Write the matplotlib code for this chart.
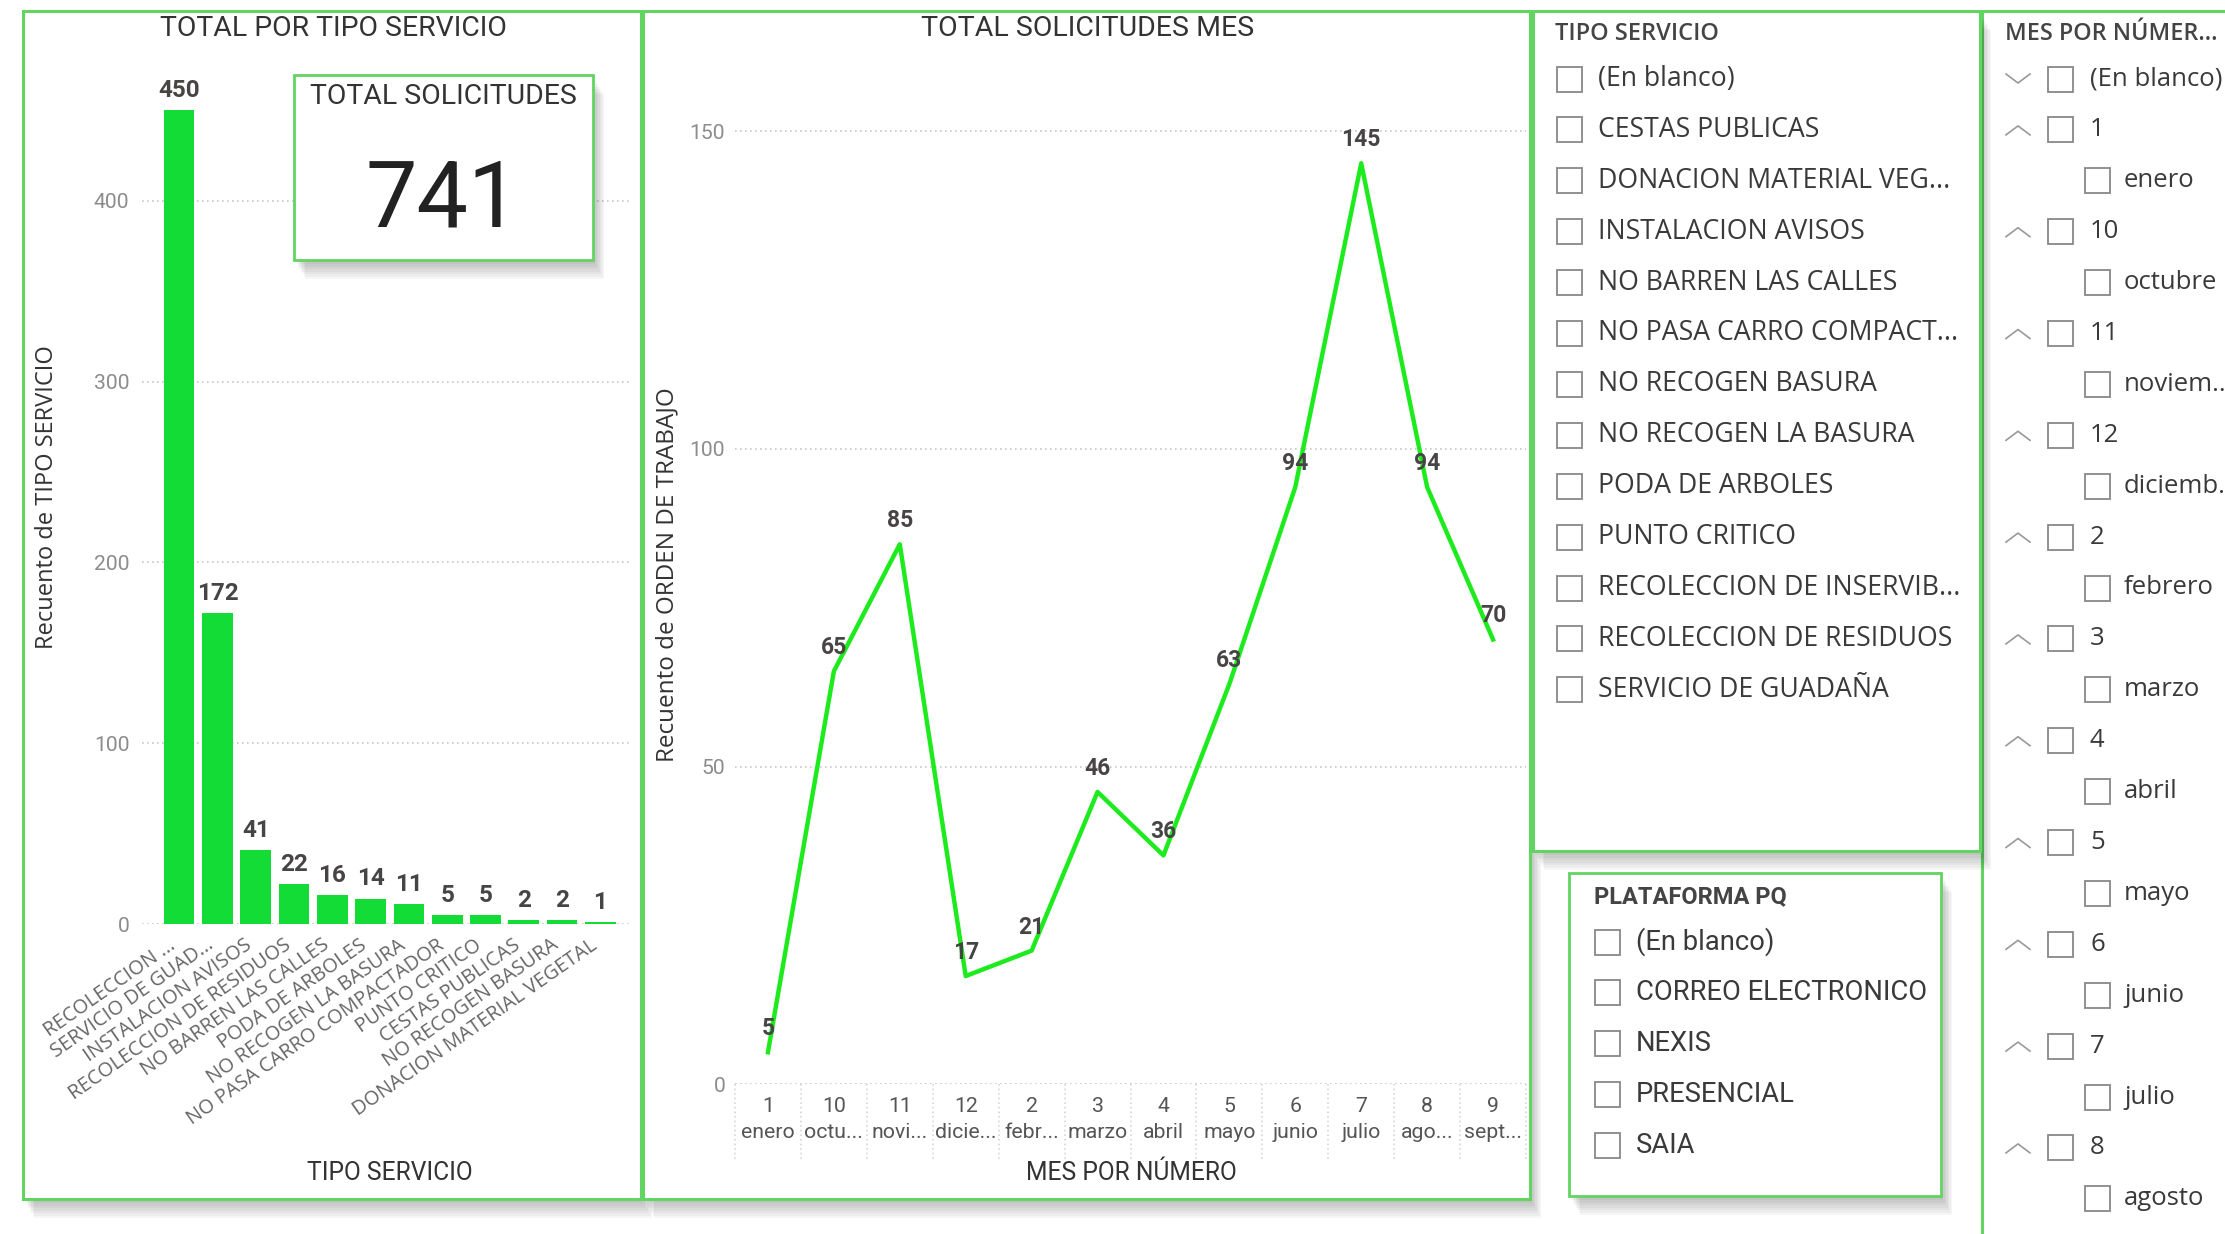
import matplotlib
matplotlib.use("Agg")
import matplotlib.pyplot as plt
from matplotlib.patches import Rectangle
from matplotlib.transforms import blended_transform_factory, ScaledTranslation

# ---------------- data ----------------
tipo_labels = ["RECOLECCION ...", "SERVICIO DE GUAD...", "INSTALACION AVISOS",
               "RECOLECCION DE RESIDUOS", "NO BARREN LAS CALLES", "PODA DE ARBOLES",
               "NO RECOGEN LA BASURA", "NO PASA CARRO COMPACTADOR", "PUNTO CRITICO",
               "CESTAS PUBLICAS", "NO RECOGEN BASURA", "DONACION MATERIAL VEGETAL"]
tipo_counts = [450, 172, 41, 22, 16, 14, 11, 5, 5, 2, 2, 1]

mes_numeros = ["1", "10", "11", "12", "2", "3", "4", "5", "6", "7", "8", "9"]
mes_nombres = ["enero", "octu...", "novi...", "dicie...", "febr...", "marzo",
               "abril", "mayo", "junio", "julio", "ago...", "sept..."]
mes_counts = [5, 65, 85, 17, 21, 46, 36, 63, 94, 145, 94, 70]

total_solicitudes = 741

slicer_tipo = ["(En blanco)", "CESTAS PUBLICAS", "DONACION MATERIAL VEG...",
               "INSTALACION AVISOS", "NO BARREN LAS CALLES", "NO PASA CARRO COMPACT...",
               "NO RECOGEN BASURA", "NO RECOGEN LA BASURA", "PODA DE ARBOLES",
               "PUNTO CRITICO", "RECOLECCION DE INSERVIB...", "RECOLECCION DE RESIDUOS",
               "SERVICIO DE GUADAÑA"]
slicer_plataforma = ["(En blanco)", "CORREO ELECTRONICO", "NEXIS", "PRESENCIAL", "SAIA"]
slicer_mes_num = ["(En blanco)", "1", "10", "11", "12", "2", "3", "4", "5", "6", "7", "8"]
slicer_mes_nom = [None, "enero", "octubre", "noviem..", "diciemb.", "febrero", "marzo",
                  "abril", "mayo", "junio", "julio", "agosto"]

# ---------------- style ----------------
W, H = 2225, 1234
BAR_GREEN = "#12DC35"
LINE_GREEN = "#1EEB1E"
BORDER = "#62D462"
DARK = "#333333"
GRAY = "#8C8C8C"
SEGOE = ["Open Sans", "DejaVu Sans"]
NARROW = ["Roboto", "DejaVu Sans"]


def box(x0, y0, x1, y1):
    # pixel box (y downwards) -> figure fraction rect
    return [x0 / W, 1 - y1 / H, (x1 - x0) / W, (y1 - y0) / H]


fig = plt.figure(figsize=(W / 100, H / 100), dpi=100)
fig.patch.set_facecolor("white")

# background layer in pixel coordinates
bg = fig.add_axes([0, 0, 1, 1], zorder=0)
bg.set_xlim(0, W)
bg.set_ylim(H, 0)
bg.axis("off")


def panel(ax, x0, y0, x1, y1, lw=2.2):
    for i in range(7):
        ax.add_patch(Rectangle((x0 + 2 + i * 1.5, y0 + 4 + i * 2.5), x1 - x0, y1 - y0,
                               facecolor="#000000", alpha=0.035, edgecolor="none"))
    ax.add_patch(Rectangle((x0, y0), x1 - x0, y1 - y0, facecolor="white",
                           edgecolor=BORDER, lw=lw))


def checkbox(ax, x, y, s=25):
    ax.add_patch(Rectangle((x, y - s / 2), s, s, facecolor="white",
                           edgecolor="#888888", lw=1.3))


# panels
panel(bg, 23, 11, 641, 1199)
panel(bg, 643, 11, 1530, 1199)
panel(bg, 1982, 11, 2260, 1260)
panel(bg, 1533, 11, 1980, 851)
panel(bg, 1569, 873, 1941, 1196, lw=2.0)

# ---------------- slicer TIPO SERVICIO ----------------
bg.text(1555, 34, "TIPO SERVICIO", fontsize=17, color="#444444", fontweight="semibold",
        family=SEGOE, va="center")
for i, lab in enumerate(slicer_tipo):
    y = 79 + i * 50.9
    checkbox(bg, 1557, y)
    bg.text(1598, y, lab, fontsize=19.2, color="#3a3a3a", family=SEGOE, va="center")

# ---------------- slicer PLATAFORMA PQ ----------------
bg.text(1594, 897, "PLATAFORMA PQ", fontsize=17, color="#444444", fontweight="bold",
        family=NARROW, va="center")
for i, lab in enumerate(slicer_plataforma):
    y = 942 + i * 50.9
    checkbox(bg, 1595, y)
    bg.text(1636, y, lab, fontsize=19.7, color="#3a3a3a", family=NARROW, va="center")

# ---------------- slicer MES POR NUMERO ----------------
bg.text(2005, 34, "MES POR NÚMER...", fontsize=16.8, color="#444444", fontweight="semibold",
        family=SEGOE, va="center")
row = 0
for num, nom in zip(slicer_mes_num, slicer_mes_nom):
    y = 79 + row * 50.9
    cx = 2018
    if row == 0:
        bg.plot([cx - 12, cx, cx + 12], [y - 5, y + 4, y - 5], color="#999999", lw=1.2)
    else:
        bg.plot([cx - 12, cx, cx + 12], [y + 5, y - 4, y + 5], color="#999999", lw=1.2)
    checkbox(bg, 2048, y)
    bg.text(2090, y, num, fontsize=18.5, color="#3a3a3a", family=SEGOE, va="center")
    row += 1
    if nom is not None:
        y = 79 + row * 50.9
        checkbox(bg, 2085, y)
        bg.text(2124, y, nom, fontsize=18.5, color="#3a3a3a", family=SEGOE, va="center")
        row += 1

# ---------------- bar chart ----------------
ax1 = fig.add_axes(box(142, 56, 631, 924), zorder=1)
ax1.patch.set_alpha(0)
x1 = list(range(len(tipo_counts)))
bars = ax1.bar(x1, tipo_counts, width=0.8, color=BAR_GREEN, zorder=3)
ax1.bar_label(bars, padding=6, fontsize=17.5, fontweight="bold", color="#474444",
              family=NARROW)
ax1.set_xlim(-0.97, 11.8)
ax1.set_ylim(0, 480)
ax1.set_yticks([0, 100, 200, 300, 400])
ax1.grid(axis="y", color="#c8c8c8", linestyle=(0, (1, 2)), lw=1.2)
ax1.set_axisbelow(True)
for s in ax1.spines.values():
    s.set_visible(False)
ax1.tick_params(axis="y", length=0, labelsize=15.2, labelcolor=GRAY, pad=9)
for t in ax1.get_yticklabels():
    t.set_family(NARROW)
ax1.set_xticks(x1)
ax1.set_xticklabels(tipo_labels, rotation=35, ha="right", rotation_mode="anchor",
                    fontsize=14.3, color="#666666", family=SEGOE)
ax1.tick_params(axis="x", length=0, pad=8)
shift = ScaledTranslation(-8 / 72, 0, fig.dpi_scale_trans)
for t in ax1.get_xticklabels():
    t.set_transform(t.get_transform() + shift)
bg.text(333, 29, "TOTAL POR TIPO SERVICIO", fontsize=20.4, color=DARK, family=NARROW,
        ha="center", va="center")
bg.text(47, 497, "Recuento de TIPO SERVICIO", fontsize=17, color=DARK, family=SEGOE,
        rotation=90, ha="center", va="center")
bg.text(390, 1173, "TIPO SERVICIO", fontsize=17.7, color=DARK, family=NARROW,
        ha="center", va="center")

# ---------------- line chart ----------------
ax2 = fig.add_axes(box(735, 68, 1526, 1084), zorder=1)
ax2.patch.set_alpha(0)
x2 = list(range(len(mes_counts)))
ax2.plot(x2, mes_counts, color=LINE_GREEN, lw=3.2, zorder=3)
for xi, v in zip(x2, mes_counts):
    ax2.annotate(str(v), (xi, v), xytext=(0, 17), textcoords="offset points",
                 ha="center", va="center", fontsize=16.5, fontweight="bold",
                 color="#474444", family=NARROW, zorder=4)
ax2.set_xlim(-0.5, 11.5)
ax2.set_ylim(0, 160)
ax2.set_yticks([0, 50, 100, 150])
ax2.grid(axis="y", color="#c8c8c8", linestyle=(0, (1, 2)), lw=1.2)
ax2.set_axisbelow(True)
for s in ax2.spines.values():
    s.set_visible(False)
ax2.tick_params(axis="y", length=0, labelsize=15.2, labelcolor=GRAY, pad=7)
for t in ax2.get_yticklabels():
    t.set_family(NARROW)
ax2.set_xticks(x2)
ax2.set_xticklabels([f"{n}\n{m}" for n, m in zip(mes_numeros, mes_nombres)],
                    fontsize=15.3, color="#555555", family=NARROW, linespacing=1.5)
ax2.tick_params(axis="x", length=0, pad=9)
trans = blended_transform_factory(ax2.transData, ax2.transAxes)
for k in range(-1, len(mes_counts)):
    ax2.plot([k + 0.5, k + 0.5], [0, -0.075], transform=trans, clip_on=False,
             color="#d0d0d0", linestyle=(0, (1, 2)), lw=1.1)
bg.text(1088, 29, "TOTAL SOLICITUDES MES", fontsize=20.5, color=DARK, family=NARROW,
        ha="center", va="center")
bg.text(667, 575, "Recuento de ORDEN DE TRABAJO", fontsize=17.5, color=DARK, family=SEGOE,
        rotation=90, ha="center", va="center")
bg.text(1131, 1173, "MES POR NÚMERO", fontsize=17.7, color=DARK, family=NARROW,
        ha="center", va="center")

# ---------------- card ----------------
card = fig.add_axes([0, 0, 1, 1], zorder=3)
card.set_xlim(0, W)
card.set_ylim(H, 0)
card.axis("off")
card.patch.set_alpha(0)
panel(card, 294, 75, 593, 260, lw=2.0)
card.text(443, 96, "TOTAL SOLICITUDES", fontsize=20.4, color=DARK, family=NARROW,
          ha="center", va="center")
card.text(443, 201, str(total_solicitudes), fontsize=66, color="#222222", family=NARROW,
          ha="center", va="center")

fig.savefig("out.png", dpi=100, facecolor="white")
